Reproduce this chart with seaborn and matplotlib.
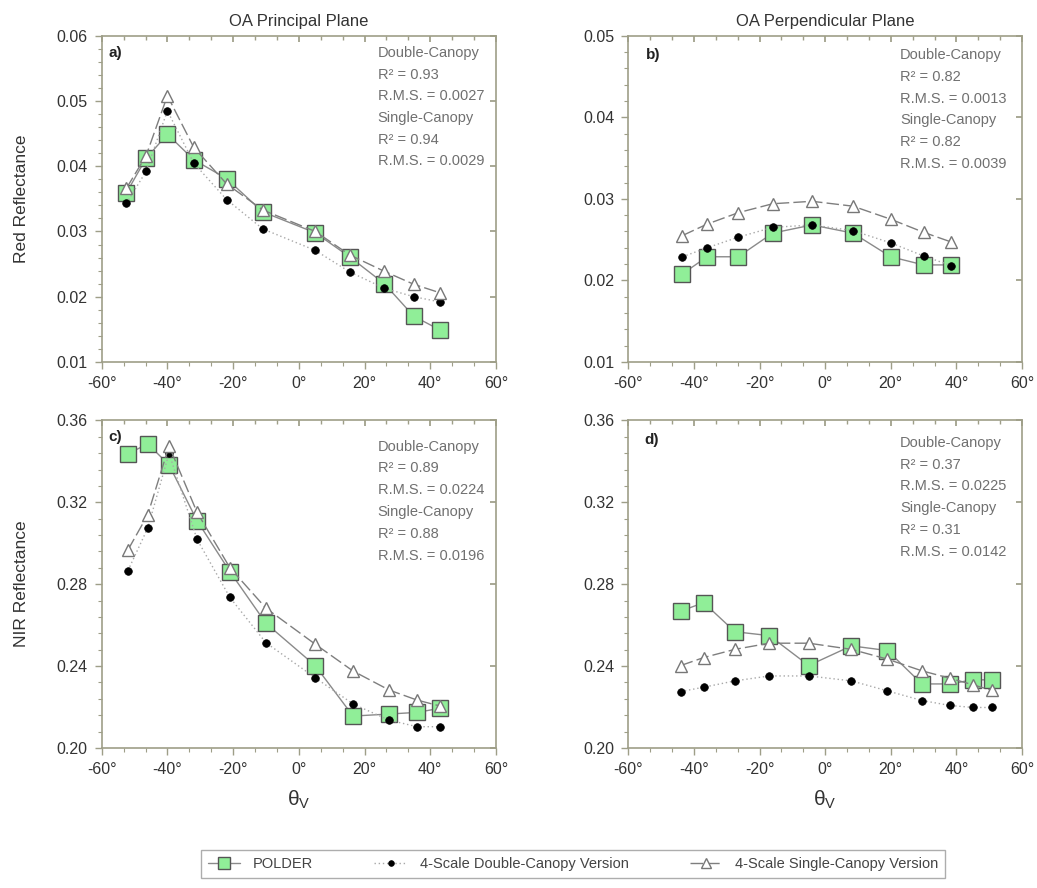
import matplotlib
matplotlib.use("Agg")
import matplotlib.pyplot as plt
from matplotlib.ticker import MultipleLocator, FormatStrFormatter, FixedLocator
from matplotlib.lines import Line2D
import seaborn as sns

# ---- data: viewing zenith angle (deg) and reflectances ----
red_pp_theta = [-52.5, -46.5, -40, -32, -22, -11, 5, 15.5, 26, 35, 43]
red_pp_polder = [0.0359, 0.0412, 0.0449, 0.0410, 0.0381, 0.0330, 0.0298, 0.0261, 0.0220, 0.0170, 0.0149]
red_pp_double = [0.0343, 0.0392, 0.0485, 0.0405, 0.0349, 0.0304, 0.0271, 0.0238, 0.0213, 0.0200, 0.0192]
red_pp_single = [0.0366, 0.0416, 0.0508, 0.0429, 0.0373, 0.0333, 0.0300, 0.0264, 0.0239, 0.0219, 0.0206]

red_op_theta = [-43.5, -36, -26.5, -16, -4, 8.5, 20, 30, 38.5]
red_op_polder = [0.0208, 0.0229, 0.0229, 0.0258, 0.0268, 0.0258, 0.0229, 0.0219, 0.0219]
red_op_double = [0.0229, 0.0240, 0.0253, 0.0265, 0.0268, 0.0261, 0.0246, 0.0230, 0.0218]
red_op_single = [0.0255, 0.0269, 0.0283, 0.0294, 0.0297, 0.0291, 0.0275, 0.0259, 0.0247]

nir_pp_theta = [-52, -46, -39.5, -31, -21, -10, 5, 16.5, 27.5, 36, 43]
nir_pp_polder = [0.3437, 0.3486, 0.3383, 0.3111, 0.2862, 0.2609, 0.2402, 0.2156, 0.2166, 0.2174, 0.2194]
nir_pp_double = [0.2867, 0.3074, 0.3440, 0.3020, 0.2736, 0.2514, 0.2343, 0.2215, 0.2136, 0.2104, 0.2104]
nir_pp_single = [0.2968, 0.3139, 0.3476, 0.3152, 0.2881, 0.2683, 0.2507, 0.2376, 0.2283, 0.2234, 0.2205]

nir_op_theta = [-44, -37, -27.5, -17, -5, 8, 19, 29.5, 38, 45, 51]
nir_op_polder = [0.2669, 0.2710, 0.2568, 0.2549, 0.2403, 0.2499, 0.2476, 0.2313, 0.2313, 0.2333, 0.2333]
nir_op_double = [0.2276, 0.2297, 0.2328, 0.2352, 0.2352, 0.2328, 0.2279, 0.2232, 0.2208, 0.2198, 0.2198]
nir_op_single = [0.2403, 0.2442, 0.2482, 0.2512, 0.2512, 0.2482, 0.2434, 0.2377, 0.2341, 0.2309, 0.2281]

# fit statistics: (double R2, double RMS, single R2, single RMS)
stats_a = ["0.93", "0.0027", "0.94", "0.0029"]
stats_b = ["0.82", "0.0013", "0.82", "0.0039"]
stats_c = ["0.89", "0.0224", "0.88", "0.0196"]
stats_d = ["0.37", "0.0225", "0.31", "0.0142"]

panel_letters = ["a)", "b)", "c)", "d)"]
column_titles = ["OA Principal Plane", "OA Perpendicular Plane"]
row_labels = ["Red Reflectance", "NIR Reflectance"]
series_names = ["POLDER", "4-Scale Double-Canopy Version", "4-Scale Single-Canopy Version"]
x_ticks = [-60, -40, -20, 0, 20, 40, 60]
x_tick_labels = [f"{v}°" for v in x_ticks]

sns.set_theme(style="ticks")
plt.rcParams["font.family"] = ["Liberation Sans", "DejaVu Sans"]
plt.rcParams["mathtext.fontset"] = "custom"
plt.rcParams["mathtext.rm"] = "Liberation Sans"
plt.rcParams["mathtext.it"] = "Liberation Sans:italic"

FRAME = "#9e9e88"
TXT = "#333333"
STAT = "#707070"

fig = plt.figure(figsize=(10.37, 8.88), dpi=100)
W, H = 1037, 888

def px_axes(left, top, right, bottom):
    return fig.add_axes([left / W, 1 - bottom / H, (right - left) / W, (bottom - top) / H])

ax_a = px_axes(101.7, 35.7, 496.0, 362.0)
ax_b = px_axes(628.3, 35.7, 1022.0, 362.0)
ax_c = px_axes(101.7, 420.5, 496.0, 748.0)
ax_d = px_axes(628.3, 420.5, 1022.0, 748.0)

panels = [
    (ax_a, red_pp_theta, red_pp_polder, red_pp_double, red_pp_single, (0.01, 0.06), 0.01, 0.002, stats_a, (0.70, 0.947), (0.016, 0.947)),
    (ax_b, red_op_theta, red_op_polder, red_op_double, red_op_single, (0.01, 0.05), 0.01, 0.002, stats_b, (0.69, 0.940), (0.046, 0.940)),
    (ax_c, nir_pp_theta, nir_pp_polder, nir_pp_double, nir_pp_single, (0.20, 0.36), 0.04, 0.008, stats_c, (0.70, 0.920), (0.016, 0.950)),
    (ax_d, nir_op_theta, nir_op_polder, nir_op_double, nir_op_single, (0.20, 0.36), 0.04, 0.008, stats_d, (0.69, 0.932), (0.042, 0.940)),
]

polder_kw = dict(color="#8a8a8a", linewidth=1.0, linestyle="-", marker="s", markersize=11,
                 markerfacecolor="#90ee98", markeredgecolor="#555555", markeredgewidth=1.0)
double_kw = dict(color="#a8a8a8", linewidth=1.0, linestyle=(0, (1, 2)), marker="o", markersize=5.5,
                 markerfacecolor="black", markeredgecolor="black", markeredgewidth=0.5)
single_kw = dict(color="#7e7e7e", linewidth=1.0, linestyle=(0, (9, 3)), marker="^", markersize=9,
                 markerfacecolor="white", markeredgecolor="#777777", markeredgewidth=1.0)

for i, (ax, th, pol, dbl, sgl, ylim, ymaj, ymin, st, tpos, lpos) in enumerate(panels):
    sns.lineplot(x=th, y=pol, ax=ax, sort=False, estimator=None, **polder_kw)
    sns.lineplot(x=th, y=dbl, ax=ax, sort=False, estimator=None, **double_kw)
    sns.lineplot(x=th, y=sgl, ax=ax, sort=False, estimator=None, **single_kw)

    ax.set_xlim(-60, 60)
    ax.set_ylim(*ylim)
    ax.xaxis.set_major_locator(FixedLocator(x_ticks))
    ax.set_xticklabels(x_tick_labels)
    ax.xaxis.set_minor_locator(MultipleLocator(20 / 3))
    ax.yaxis.set_major_locator(MultipleLocator(ymaj))
    ax.yaxis.set_minor_locator(MultipleLocator(ymin))
    ax.yaxis.set_major_formatter(FormatStrFormatter("%.2f"))
    ax.tick_params(which="both", direction="out", colors=FRAME, labelcolor=TXT, labelsize=11.5)
    ax.tick_params(which="major", length=5, width=1.0)
    ax.tick_params(which="minor", length=3, width=0.8)
    ax.tick_params(axis="x", pad=5)
    ax.tick_params(axis="y", pad=5)
    for sp in ax.spines.values():
        sp.set_visible(True)
        sp.set_color(FRAME)
        sp.set_linewidth(1.2)
    ax.set_xlabel("")
    ax.set_ylabel("")

    # inward ticks along top and right frame
    top = ax.secondary_xaxis("top")
    top.xaxis.set_major_locator(FixedLocator(x_ticks))
    top.xaxis.set_minor_locator(MultipleLocator(20 / 3))
    top.tick_params(which="both", direction="in", colors=FRAME, labeltop=False)
    top.tick_params(which="major", length=4)
    top.tick_params(which="minor", length=3)
    top.spines["top"].set_visible(False)
    right = ax.secondary_yaxis("right")
    right.yaxis.set_major_locator(MultipleLocator(ymaj))
    right.yaxis.set_minor_locator(MultipleLocator(ymin))
    right.tick_params(which="major", direction="in", colors=FRAME, labelright=False, length=4)
    right.tick_params(which="minor", length=0)
    right.spines["right"].set_visible(False)

    lines = ["Double-Canopy", f"R² = {st[0]}", f"R.M.S. = {st[1]}",
             "Single-Canopy", f"R² = {st[2]}", f"R.M.S. = {st[3]}"]
    for k, t in enumerate(lines):
        ax.text(tpos[0], tpos[1] - k * 0.0665, t, transform=ax.transAxes,
                ha="left", va="center", fontsize=10.5, color=STAT)
    ax.text(lpos[0], lpos[1], panel_letters[i], transform=ax.transAxes,
            ha="left", va="center", fontsize=11, color="#222222", fontweight="bold")

ax_a.set_title(column_titles[0], fontsize=12, color=TXT, pad=7)
ax_b.set_title(column_titles[1], fontsize=12, color=TXT, pad=7)

fig.text(22 / W, 1 - 199 / H, row_labels[0], rotation=90, ha="center", va="center", fontsize=12.5, color=TXT)
fig.text(22 / W, 1 - 584 / H, row_labels[1], rotation=90, ha="center", va="center", fontsize=12.5, color=TXT)

for ax in (ax_c, ax_d):
    pos = ax.get_position()
    fig.text((pos.x0 + pos.x1) / 2, 1 - 800 / H, r"$\mathrm{\theta_V}$", ha="center", va="center",
             fontsize=15, color=TXT)

handles = [Line2D([], [], **polder_kw), Line2D([], [], **double_kw), Line2D([], [], **single_kw)]
leg = fig.legend(handles, series_names, loc="center", bbox_to_anchor=(573 / W, 1 - 864 / H),
                 ncol=3, frameon=True, fontsize=10.5, handlelength=2.2, handletextpad=0.9,
                 columnspacing=4.2, borderpad=0.45, fancybox=False, edgecolor="#999999",
                 markerscale=0.75)
leg.get_frame().set_linewidth(1.0)
for t in leg.get_texts():
    t.set_color("#444444")

fig.savefig("out.png", dpi=100)
